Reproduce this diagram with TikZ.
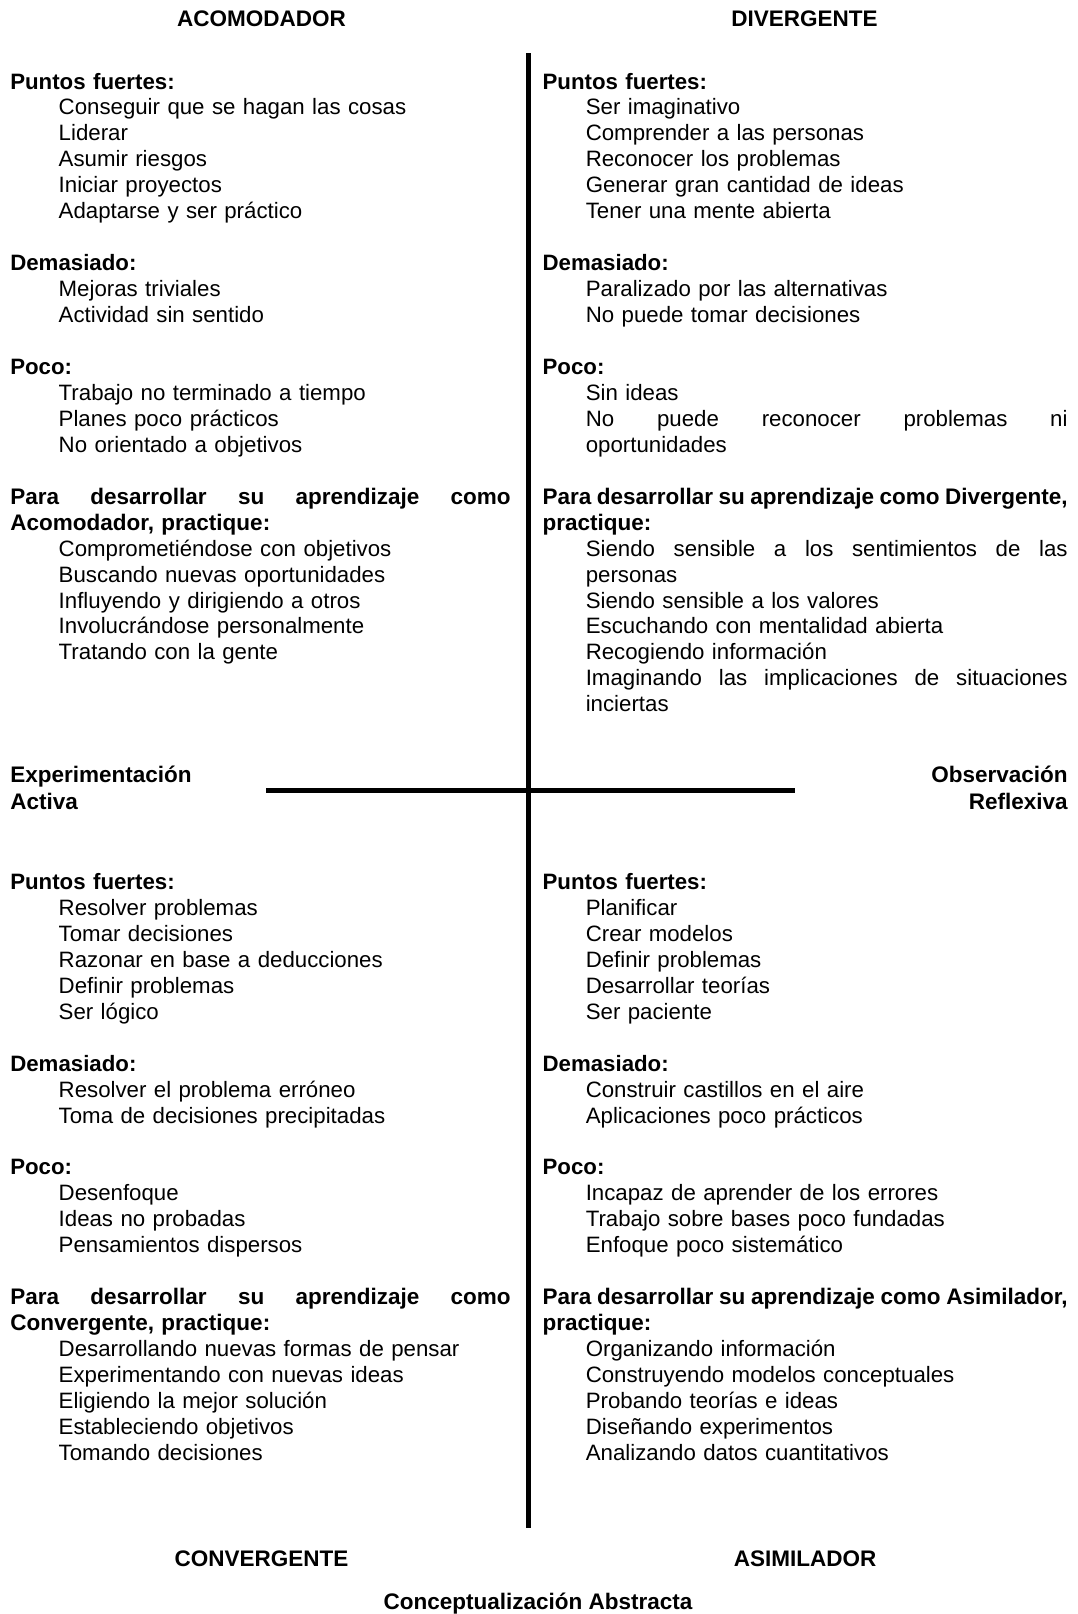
\documentclass[tikz,border=0pt]{standalone}
\usepackage{fontspec}
\setmainfont{Liberation Sans}
\newcommand{\indL}{\hspace*{48.4pt}}
\newcommand{\indR}{\hspace*{43.2pt}}
\newcommand{\js}{\hskip 0.278em plus 1fil minus 0.12em\relax}
\newcommand{\jL}[1]{\hbox to 500.4pt{#1}}
\newcommand{\jRR}[1]{\hbox to 525pt{#1}}
\newcommand{\jR}[1]{\indR\hbox to 481.8pt{#1}}
\begin{document}
\begin{tikzpicture}[x=1pt,y=-1pt,
  txt/.style={inner sep=0pt, outer sep=0pt, anchor=base west, align=left,
              font=\fontsize{22.25}{25.95}\selectfont},
  colL/.style={txt, text width=500.4pt},
  colR/.style={txt, text width=525pt},
  hdr/.style={inner sep=0pt, outer sep=0pt, anchor=base,
              font=\fontsize{22.5}{27}\selectfont\bfseries},
  side/.style={inner sep=0pt, outer sep=0pt,
               font=\fontsize{22.5}{27}\selectfont\bfseries},
  axisline/.style={line width=5pt, draw=black}]
\useasboundingbox (0,0) rectangle (1077,1614);

% quadrant titles
\node[hdr] (acom) at (261.5,26.5) {ACOMODADOR};
\node[hdr] (dive) at (804.6,26.5) {DIVERGENTE};
\node[hdr] (conv) at (261.5,1566) {CONVERGENTE};
\node[hdr] (asim) at (805,1566) {ASIMILADOR};
\node[hdr] (abst) at (538,1609) {Conceptualización Abstracta};

% axes
\coordinate (vtop) at (528,53);
\coordinate (vbot) at (528,1528);
\coordinate (hleft) at (266,790);
\coordinate (hright) at (795,790);
\draw[axisline] (vtop) -- (vbot);
\draw[axisline] (hleft) -- (hright);

% side labels (anchored at the baseline of the last line)
\node[side, anchor=base west, align=left] (expact) at (10.3,809)
  {Experimentación\\Activa};
\node[side, anchor=base east, align=right] (obsref) at (1067.7,809)
  {Observación\\Reflexiva};

% ---------------- ACOMODADOR ----------------
\node[colL] (acoPF) at (10.3,89) {\textbf{Puntos fuertes:}\\
  \indL Conseguir que se hagan las cosas\\
  \indL Liderar\\
  \indL Asumir riesgos\\
  \indL Iniciar proyectos\\
  \indL Adaptarse y ser práctico};
\node[colL] (acoDe) at (10.3,270.65) {\textbf{Demasiado:}\\
  \indL Mejoras triviales\\
  \indL Actividad sin sentido};
\node[colL] (acoPo) at (10.3,374.45) {\textbf{Poco:}\\
  \indL Trabajo no terminado a tiempo\\
  \indL Planes poco prácticos\\
  \indL No orientado a objetivos};
\node[colL] (acoPa) at (10.3,504.2) {\jL{\bfseries\fontsize{22.5}{25.95}\selectfont Para\js desarrollar\js su\js aprendizaje\js como}\\
  {\bfseries\fontsize{22.5}{25.95}\selectfont Acomodador, practique:}\\
  \indL Comprometiéndose con objetivos\\
  \indL Buscando nuevas oportunidades\\
  \indL Influyendo y dirigiendo a otros\\
  \indL Involucrándose personalmente\\
  \indL Tratando con la gente};

% ---------------- DIVERGENTE ----------------
\node[colR] (divPF) at (542.6,89) {\textbf{Puntos fuertes:}\\
  \indR Ser imaginativo\\
  \indR Comprender a las personas\\
  \indR Reconocer los problemas\\
  \indR Generar gran cantidad de ideas\\
  \indR Tener una mente abierta};
\node[colR] (divDe) at (542.6,270.65) {\textbf{Demasiado:}\\
  \indR Paralizado por las alternativas\\
  \indR No puede tomar decisiones};
\node[colR] (divPo) at (542.6,374.45) {\textbf{Poco:}\\
  \indR Sin ideas\\
  \jR{No\js puede\js reconocer\js problemas\js ni}\\
  \indR oportunidades};
\node[colR] (divPa) at (542.6,504.2) {\jRR{\bfseries\fontsize{22.5}{25.95}\selectfont Para\js desarrollar\js su\js aprendizaje\js como\js Divergente,}\\
  {\bfseries\fontsize{22.5}{25.95}\selectfont practique:}\\
  \jR{Siendo\js sensible\js a\js los\js sentimientos\js de\js las}\\
  \indR personas\\
  \indR Siendo sensible a los valores\\
  \indR Escuchando con mentalidad abierta\\
  \indR Recogiendo información\\
  \jR{Imaginando\js las\js implicaciones\js de\js situaciones}\\
  \indR inciertas};

% ---------------- CONVERGENTE ----------------
\node[colL] (conPF) at (10.3,889.5) {\textbf{Puntos fuertes:}\\
  \indL Resolver problemas\\
  \indL Tomar decisiones\\
  \indL Razonar en base a deducciones\\
  \indL Definir problemas\\
  \indL Ser lógico};
\node[colL] (conDe) at (10.3,1071.15) {\textbf{Demasiado:}\\
  \indL Resolver el problema erróneo\\
  \indL Toma de decisiones precipitadas};
\node[colL] (conPo) at (10.3,1174.95) {\textbf{Poco:}\\
  \indL Desenfoque\\
  \indL Ideas no probadas\\
  \indL Pensamientos dispersos};
\node[colL] (conPa) at (10.3,1304.7) {\jL{\bfseries\fontsize{22.5}{25.95}\selectfont Para\js desarrollar\js su\js aprendizaje\js como}\\
  {\bfseries\fontsize{22.5}{25.95}\selectfont Convergente, practique:}\\
  \indL Desarrollando nuevas formas de pensar\\
  \indL Experimentando con nuevas ideas\\
  \indL Eligiendo la mejor solución\\
  \indL Estableciendo objetivos\\
  \indL Tomando decisiones};

% ---------------- ASIMILADOR ----------------
\node[colR] (asiPF) at (542.6,889.5) {\textbf{Puntos fuertes:}\\
  \indR Planificar\\
  \indR Crear modelos\\
  \indR Definir problemas\\
  \indR Desarrollar teorías\\
  \indR Ser paciente};
\node[colR] (asiDe) at (542.6,1071.15) {\textbf{Demasiado:}\\
  \indR Construir castillos en el aire\\
  \indR Aplicaciones poco prácticos};
\node[colR] (asiPo) at (542.6,1174.95) {\textbf{Poco:}\\
  \indR Incapaz de aprender de los errores\\
  \indR Trabajo sobre bases poco fundadas\\
  \indR Enfoque poco sistemático};
\node[colR] (asiPa) at (542.6,1304.7) {\jRR{\bfseries\fontsize{22.5}{25.95}\selectfont Para\js desarrollar\js su\js aprendizaje\js como\js Asimilador,}\\
  {\bfseries\fontsize{22.5}{25.95}\selectfont practique:}\\
  \indR Organizando información\\
  \indR Construyendo modelos conceptuales\\
  \indR Probando teorías e ideas\\
  \indR Diseñando experimentos\\
  \indR Analizando datos cuantitativos};
\end{tikzpicture}
\end{document}
